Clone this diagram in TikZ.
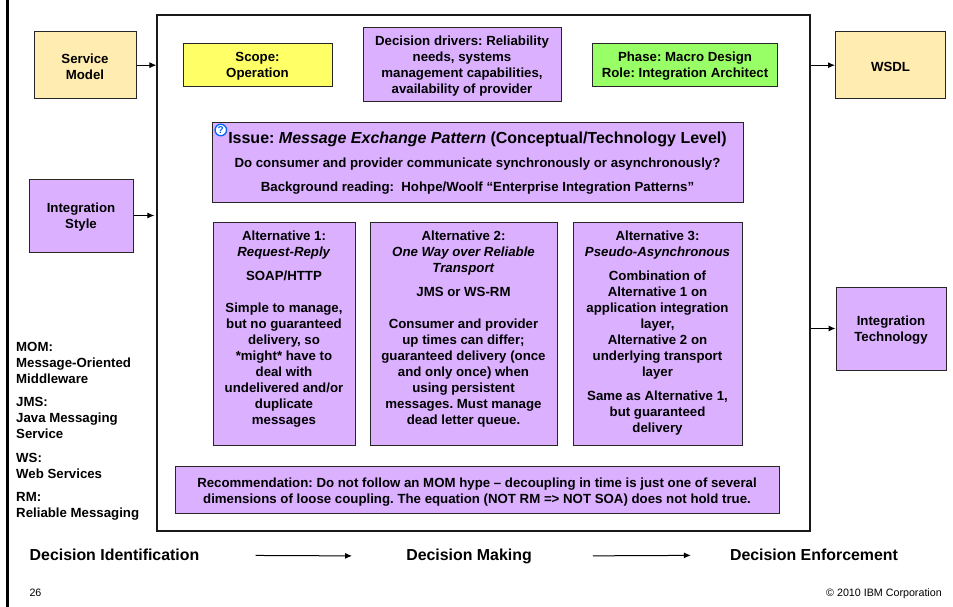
\documentclass[tikz,border=0pt]{standalone}
\usepackage{fontspec}
\setmainfont{Liberation Sans}
\frenchspacing
\usetikzlibrary{positioning,arrows.meta}
\definecolor{lilac}{HTML}{DBB0FF}
\definecolor{cream}{HTML}{FFECB0}
\definecolor{lemon}{HTML}{FFFF66}
\definecolor{lime}{HTML}{99FF66}
\tikzset{
    box/.style={draw=black!85,line width=1pt,inner sep=0pt},
    words/.style={inner sep=0pt,align=center,font=\fontsize{13.25}{16}\bfseries\selectfont},
    boxwords/.style={words,yshift=-1.5pt},
    side/.style={inner sep=0pt,align=left,anchor=north west,font=\fontsize{13.25}{16}\bfseries\selectfont},
    stage/.style={inner sep=0pt,anchor=base,font=\fontsize{15.9}{18}\bfseries\selectfont},
    small/.style={inner sep=0pt,anchor=base,font=\fontsize{10.7}{12}\selectfont},
    link/.style={line width=1pt,-{Latex[length=7pt,width=6pt]}},
}
\begin{document}
\begin{tikzpicture}[x=1pt,y=-1pt]
    \useasboundingbox (0,0) rectangle (953,607);
    %% Slide edge and frame
    \draw[line width=2.4pt] (7.5,0) -- (7.5,607);
    \node[draw=black!90,line width=1.2pt,minimum width=653pt,minimum height=516pt,inner sep=0pt] (frame) at (483.5,273) {};
    %% Inputs and outputs
    \node[box,fill=cream,minimum width=102pt,minimum height=66.5pt] (servicemodel) at (85,65.2) {};
    \node[boxwords] (servicemodeltext) at (servicemodel) {Service\\ Model};
    \node[box,fill=lilac,minimum width=104pt,minimum height=73pt] (integrationstyle) at (81,215.5) {};
    \node[boxwords] (integrationstyletext) at (integrationstyle) {Integration\\ Style};
    \node[box,fill=cream,minimum width=110pt,minimum height=66.5pt] (wsdl) at (890.5,65.2) {};
    \node[boxwords] (wsdltext) at (wsdl) {WSDL};
    \node[box,fill=lilac,minimum width=110pt,minimum height=83pt] (integrationtech) at (891,328.5) {};
    \node[boxwords] (integrationtechtext) at (integrationtech) {Integration\\ Technology};
    \draw[link] (servicemodel) -- (servicemodel -| frame.west);
    \draw[link,shorten >=2pt] (integrationstyle) -- (integrationstyle -| frame.west);
    \draw[link] (wsdl -| frame.east) -- (wsdl);
    \draw[link] (integrationtech -| frame.east) -- (integrationtech);
    %% Top row
    \node[box,fill=lemon,minimum width=149pt,minimum height=43pt] (scope) at (257.5,65) {};
    \node[boxwords] (scopetext) at (scope) {Scope:\\ Operation};
    \node[box,fill=lilac,minimum width=198pt,minimum height=74pt] (drivers) at (462,65) {};
    \node[boxwords] (driverstext) at (drivers) {Decision drivers: Reliability\\ needs, systems\\ management capabilities,\\ availability of provider};
    \node[box,fill=lime,minimum width=185pt,minimum height=43pt] (phase) at (685,65) {};
    \node[boxwords] (phasetext) at (phase) {Phase: Macro Design\\ Role: Integration Architect};
    %% Issue
    \node[box,fill=lilac,minimum width=531pt,minimum height=80pt] (issue) at (477.5,162.5) {};
    \node[words,below=9.5pt of issue.north] (issuetext) {{\fontsize{16}{18}\selectfont Issue: \textit{Message Exchange Pattern} (Conceptual/Technology Level)}\\[8.5pt]
        Do consumer and provider communicate synchronously or asynchronously?\\[8pt]
        Background reading:\ \ Hohpe/Woolf “Enterprise Integration Patterns”};
    \node[circle,draw=blue!60!cyan,line width=1.3pt,fill=white,inner sep=0pt,minimum size=11.5pt,text=blue!60!cyan,font=\fontsize{10}{10}\bfseries\selectfont] (help) at (220.8,130) {?};
    %% Alternatives
    \node[box,fill=lilac,minimum width=142pt,minimum height=223pt] (altone) at (284,334) {};
    \node[box,fill=lilac,minimum width=187pt,minimum height=223pt] (alttwo) at (463.5,334) {};
    \node[box,fill=lilac,minimum width=169pt,minimum height=223pt] (altthree) at (657.5,334) {};
    \node[words,below=8.5pt of altone.north] (altonetext) {Alternative 1:\\ \textit{Request-Reply}\\[8pt] SOAP/HTTP\\[16pt]
        Simple to manage,\\ but no guaranteed\\ delivery, so\\ *might* have to\\ deal with\\ undelivered and/or\\ duplicate\\ messages};
    \node[words,below=8.5pt of alttwo.north] (alttwotext) {Alternative 2:\\ \textit{One Way over Reliable}\\ \textit{Transport}\\[8pt] JMS or WS-RM\\[16pt]
        Consumer and provider\\ up times can differ;\\ guaranteed delivery (once\\ and only once) when\\ using persistent\\ messages. Must manage\\ dead letter queue.};
    \node[words,below=8.5pt of altthree.north] (altthreetext) {Alternative 3:\\ \textit{Pseudo-Asynchronous}\\[8pt] Combination of\\ Alternative 1 on\\ application integration\\ layer,\\ Alternative 2 on\\ underlying transport\\ layer\\[8pt]
        Same as Alternative 1,\\ but guaranteed\\ delivery};
    %% Recommendation
    \node[box,fill=lilac,minimum width=604pt,minimum height=47pt] (advice) at (477,489.5) {};
    \node[boxwords,yshift=-1.5pt] (advicetext) at (advice) {Recommendation: Do not follow an MOM hype – decoupling in time is just one of several\\ dimensions of loose coupling. The equation (NOT RM => NOT SOA) does not hold true.};
    %% Abbreviations
    \node[side] (mom) at (16,342) {MOM:\\ Message-Oriented\\ Middleware};
    \node[side] (jms) at (16,397.5) {JMS:\\ Java Messaging\\ Service};
    \node[side] (ws) at (16,453) {WS:\\ Web Services};
    \node[side] (rm) at (16,492.5) {RM:\\ Reliable Messaging};
    %% Decision stages
    \node[stage] (identify) at (114.5,560.5) {Decision Identification};
    \node[stage] (making) at (469,560.5) {Decision Making};
    \node[stage] (enforce) at (814,560.5) {Decision Enforcement};
    \draw[link,shorten <=56pt,shorten >=54pt] (identify) -- (making);
    \draw[link,shorten <=61pt,shorten >=39pt] (making) -- (enforce);
    %% Footer
    \node[small] (page) at (35.5,596) {26};
    \node[small] (copy) at (884,596.5) {© 2010 IBM Corporation};
\end{tikzpicture}
\end{document}
